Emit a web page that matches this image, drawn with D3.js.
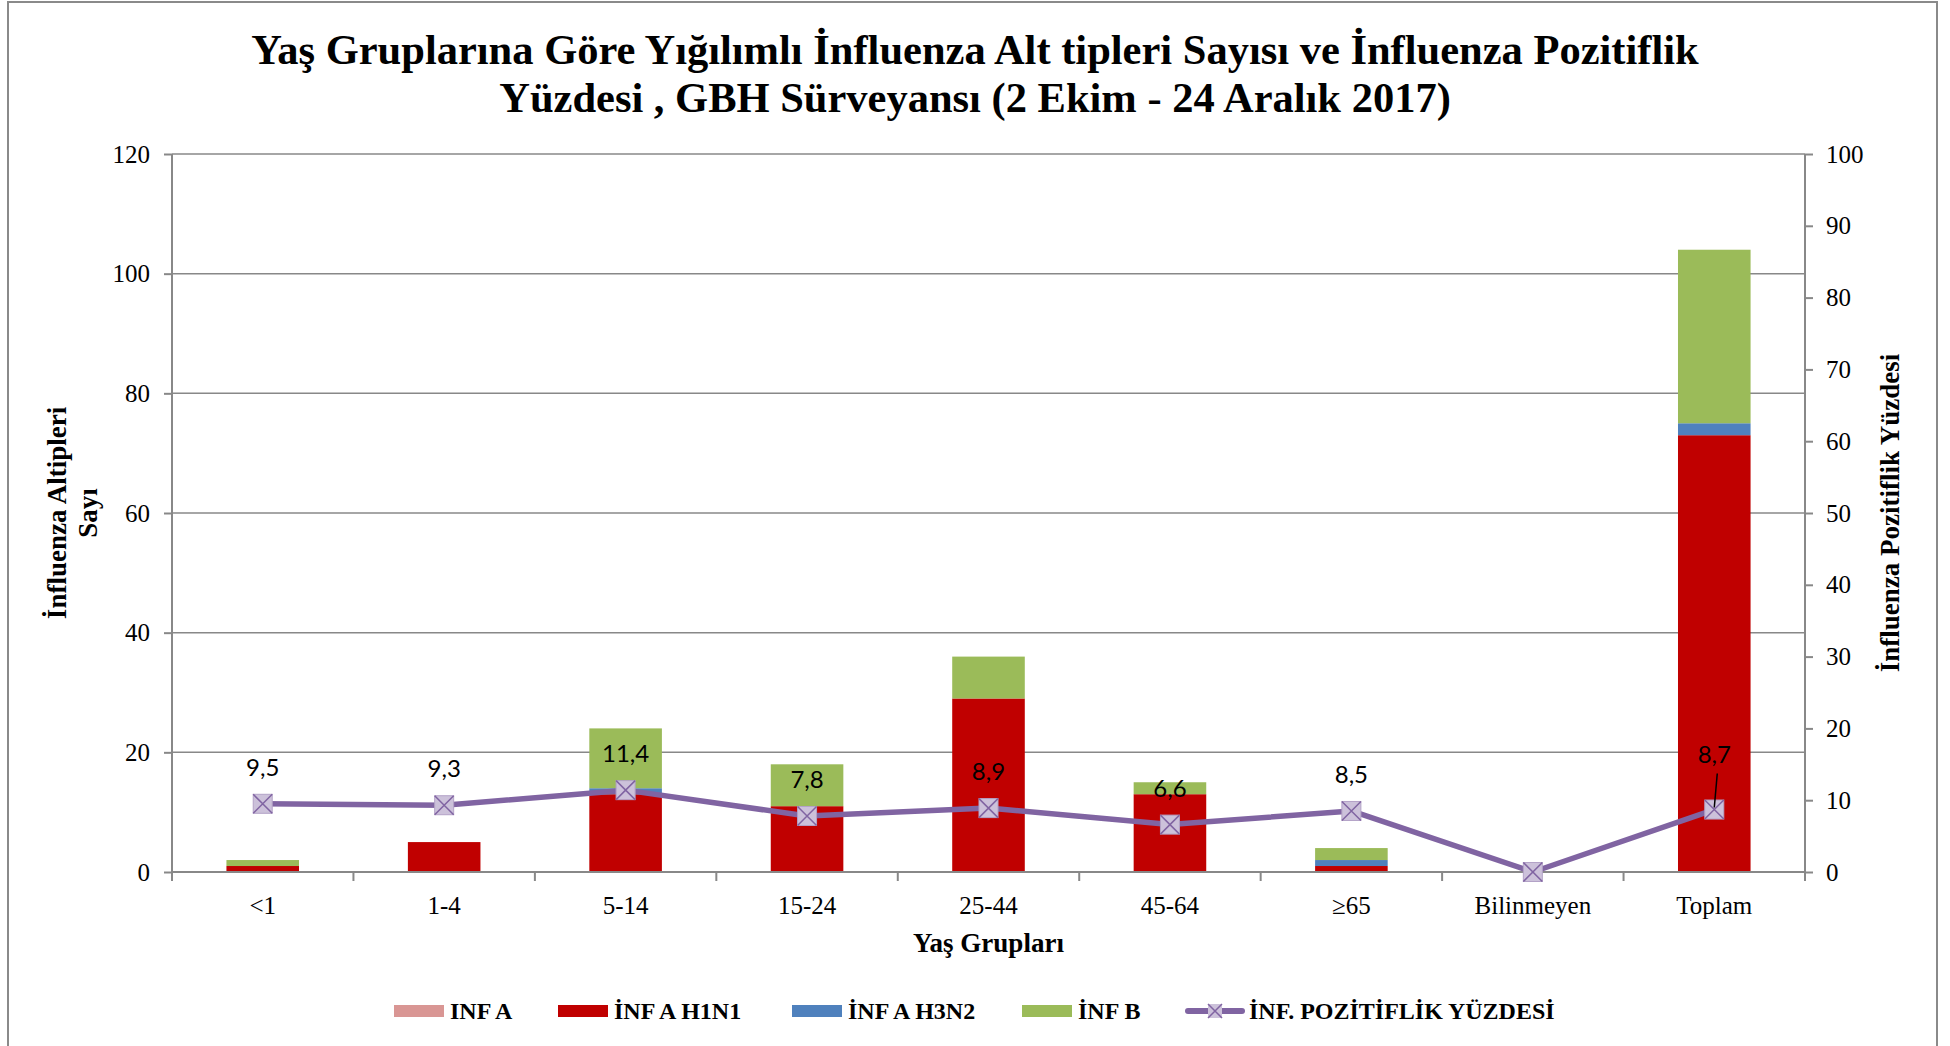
<!DOCTYPE html>
<html>
<head>
<meta charset="utf-8">
<script src="https://d3js.org/d3.v7.min.js"></script>
<style>
  body { margin: 0; background: #fff; }
  text { font-family: "Liberation Serif", "Times New Roman", serif; fill: #000; }
  .bold { font-weight: bold; }
  .lbl { font-family: Lato, "Open Sans", sans-serif; }
</style>
</head>
<body>
<script>
// --- data ---
var groups = ["<1", "1-4", "5-14", "15-24", "25-44", "45-64", "\u226565", "Bilinmeyen", "Toplam"];
var infA   = [0, 0, 0, 0, 0, 0, 0, 0, 0];
var h1n1   = [1, 5, 13, 11, 29, 13, 1, 0, 73];
var h3n2   = [0, 0, 1, 0, 0, 0, 1, 0, 2];
var infB   = [1, 0, 10, 7, 7, 2, 2, 0, 29];
var pozitif = [9.5, 9.3, 11.4, 7.8, 8.9, 6.6, 8.5, 0, 8.7];
var pozLabels = ["9,5", "9,3", "11,4", "7,8", "8,9", "6,6", "8,5", "", "8,7"];
var leftTicks = [0, 20, 40, 60, 80, 100, 120];
var rightTicks = [0, 10, 20, 30, 40, 50, 60, 70, 80, 90, 100];

var keys = ["infA", "h1n1", "h3n2", "infB"];
var names = ["INF A", "\u0130NF A H1N1", "\u0130NF A H3N2", "\u0130NF B"];
var colors = ["#D99694", "#C00000", "#4F81BD", "#9BBB59"];
var lineColor = "#8064A2", markFill = "#CCC1DA", gridColor = "#888888";

var table = groups.map(function(g, i) {
  return { group: g, infA: infA[i], h1n1: h1n1[i], h3n2: h3n2[i], infB: infB[i] };
});
var series = d3.stack().keys(keys)(table);

var W = 1950, H = 1046;
var pL = 172, pR = 1805, pT = 154, pB = 872;

var svg = d3.select("body").append("svg")
  .attr("width", W).attr("height", H);

// outer frame
svg.append("rect")
  .attr("x", 8).attr("y", 2).attr("width", 1929).attr("height", 1070)
  .attr("fill", "none").attr("stroke", "#8a8a8a").attr("stroke-width", 2);

var x = d3.scaleBand().domain(groups).range([pL, pR])
  .paddingInner(0.6).paddingOuter(0.3);
var step = x.step();
var yL = d3.scaleLinear().domain([0, 120]).range([pB, pT]);
var yR = d3.scaleLinear().domain([0, 100]).range([pB, pT]);
var cx = function(g) { return x(g) + x.bandwidth() / 2; };

// gridlines
svg.append("g").selectAll("line")
  .data(leftTicks.filter(function(t) { return t > 0; }))
  .enter().append("line")
  .attr("x1", pL).attr("x2", pR)
  .attr("y1", function(d) { return yL(d); }).attr("y2", function(d) { return yL(d); })
  .attr("stroke", gridColor).attr("stroke-width", 1.5);

// stacked bars
svg.append("g").selectAll("g")
  .data(series)
  .enter().append("g")
  .attr("fill", function(d, i) { return colors[i]; })
  .selectAll("rect")
  .data(function(d) { return d; })
  .enter().append("rect")
  .attr("x", function(d) { return x(d.data.group); })
  .attr("width", x.bandwidth())
  .attr("y", function(d) { return yL(d[1]); })
  .attr("height", function(d) { return yL(d[0]) - yL(d[1]); });

// axes
var axL = svg.append("g").attr("transform", "translate(" + pL + ",0)")
  .call(d3.axisLeft(yL).tickValues(leftTicks).tickSize(8).tickPadding(14));
var axR = svg.append("g").attr("transform", "translate(" + pR + ",0)")
  .call(d3.axisRight(yR).tickValues(rightTicks).tickSize(8).tickPadding(13));
var axB = svg.append("g").attr("transform", "translate(0," + pB + ")")
  .call(d3.axisBottom(x).tickSize(0).tickPadding(24));
// category boundary ticks
axB.selectAll(".bt")
  .data(d3.range(groups.length + 1))
  .enter().append("line")
  .attr("x1", function(i) { return pL + i * step; })
  .attr("x2", function(i) { return pL + i * step; })
  .attr("y1", 0).attr("y2", 9)
  .attr("stroke", gridColor).attr("stroke-width", 2);

[axL, axR, axB].forEach(function(a) {
  a.selectAll(".domain").attr("stroke", gridColor).attr("stroke-width", 2);
  a.selectAll(".tick line").attr("stroke", gridColor).attr("stroke-width", 2);
  a.selectAll(".tick text")
    .style("font-family", "'Liberation Serif', serif")
    .style("font-size", "25px").attr("fill", "#000");
});
axL.select(".domain").attr("d", "M0," + pT + "V" + pB);
axR.select(".domain").attr("d", "M0," + pT + "V" + pB);
axB.select(".domain").attr("d", "M" + pL + ",0H" + pR);

// percentage line
var line = d3.line()
  .x(function(d, i) { return cx(groups[i]); })
  .y(function(d) { return yR(d); });
svg.append("path").datum(pozitif)
  .attr("d", line).attr("fill", "none")
  .attr("stroke", lineColor).attr("stroke-width", 5.5)
  .attr("stroke-linejoin", "round");

var ms = 19;
var marks = svg.append("g").selectAll("g")
  .data(pozitif).enter().append("g")
  .attr("transform", function(d, i) {
    return "translate(" + cx(groups[i]) + "," + yR(d) + ")";
  });
marks.append("rect")
  .attr("x", -ms / 2).attr("y", -ms / 2).attr("width", ms).attr("height", ms)
  .attr("fill", markFill).attr("stroke", "#b3a2c7").attr("stroke-width", 1);
marks.append("path")
  .attr("d", "M" + (-ms / 2) + "," + (-ms / 2) + "L" + (ms / 2) + "," + (ms / 2) +
             "M" + (ms / 2) + "," + (-ms / 2) + "L" + (-ms / 2) + "," + (ms / 2))
  .attr("stroke", lineColor).attr("stroke-width", 1.5);

// data labels
var last = groups.length - 1;
svg.append("g").selectAll("text")
  .data(pozitif).enter().append("text")
  .attr("class", "lbl")
  .attr("x", function(d, i) { return cx(groups[i]); })
  .attr("y", function(d, i) { return yR(d) - (i === last ? 47 : 28); })
  .attr("text-anchor", "middle")
  .style("font-size", "24px")
  .text(function(d, i) { return pozLabels[i]; });
// leader line for Toplam label
svg.append("line")
  .attr("x1", cx(groups[last]) + 3).attr("y1", yR(pozitif[last]) - 36)
  .attr("x2", cx(groups[last])).attr("y2", yR(pozitif[last]) - 2)
  .attr("stroke", "#000").attr("stroke-width", 1.5);

// titles
var title = svg.append("text").attr("class", "bold")
  .attr("text-anchor", "middle").style("font-size", "42.5px");
title.append("tspan").attr("x", 975).attr("y", 64)
  .text("Ya\u015f Gruplar\u0131na G\u00f6re Y\u0131\u011f\u0131l\u0131ml\u0131 \u0130nfluenza Alt tipleri Say\u0131s\u0131 ve \u0130nfluenza Pozitiflik");
title.append("tspan").attr("x", 975).attr("y", 112)
  .text("Y\u00fczdesi , GBH S\u00fcrveyans\u0131 (2 Ekim - 24 Aral\u0131k 2017)");

svg.append("text").attr("class", "bold")
  .attr("x", (pL + pR) / 2).attr("y", 952)
  .attr("text-anchor", "middle").style("font-size", "27px")
  .text("Ya\u015f Gruplar\u0131");

var yt = svg.append("text").attr("class", "bold")
  .attr("transform", "translate(0," + ((pT + pB) / 2) + ") rotate(-90)")
  .attr("text-anchor", "middle").style("font-size", "27px");
yt.append("tspan").attr("x", 0).attr("y", 66).text("\u0130nfluenza Altipleri");
yt.append("tspan").attr("x", 0).attr("y", 97).text("Say\u0131");

svg.append("text").attr("class", "bold")
  .attr("transform", "translate(1899," + ((pT + pB) / 2) + ") rotate(-90)")
  .attr("text-anchor", "middle").style("font-size", "27px")
  .text("\u0130nfluenza Pozitiflik Y\u00fczdesi");

// legend
var legY = 1011;
var legX = [394, 558, 792, 1022];
var lg = svg.append("g").selectAll("g")
  .data(names).enter().append("g")
  .attr("transform", function(d, i) { return "translate(" + legX[i] + "," + legY + ")"; });
lg.append("rect").attr("x", 0).attr("y", -6).attr("width", 50).attr("height", 12)
  .attr("fill", function(d, i) { return colors[i]; });
lg.append("text").attr("class", "bold").attr("x", 56).attr("y", 8)
  .style("font-size", "24px").text(function(d) { return d; });

var ll = svg.append("g").attr("transform", "translate(1188," + legY + ")");
ll.append("line").attr("x1", 0).attr("x2", 54).attr("y1", 0).attr("y2", 0)
  .attr("stroke", lineColor).attr("stroke-width", 6).attr("stroke-linecap", "round");
ll.append("rect").attr("x", 20).attr("y", -7).attr("width", 14).attr("height", 14)
  .attr("fill", markFill);
ll.append("path").attr("d", "M20,-7L34,7M34,-7L20,7")
  .attr("stroke", lineColor).attr("stroke-width", 1.5);
ll.append("text").attr("class", "bold").attr("x", 61).attr("y", 8)
  .style("font-size", "24px").text("\u0130NF. POZ\u0130T\u0130FL\u0130K Y\u00dcZDES\u0130");
</script>
</body>
</html>
